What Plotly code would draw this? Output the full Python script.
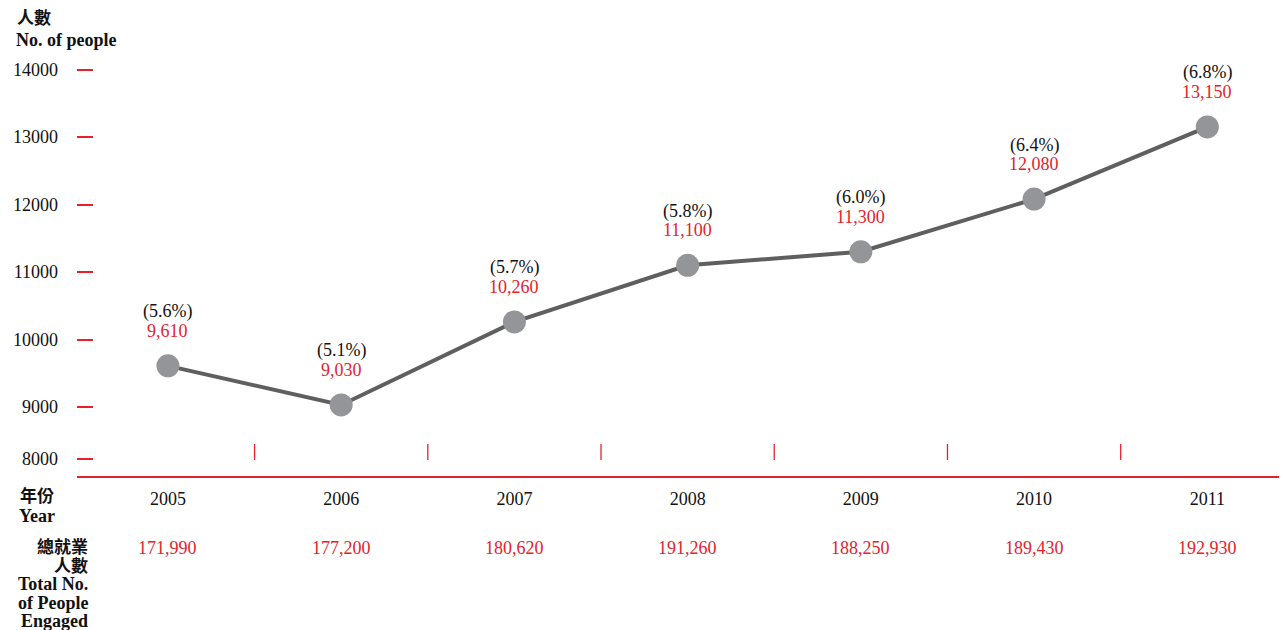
import plotly.graph_objects as go

# ---------------- data ----------------
years = [2005, 2006, 2007, 2008, 2009, 2010, 2011]
people = [9610, 9030, 10260, 11100, 11300, 12080, 13150]
share_pct = [5.6, 5.1, 5.7, 5.8, 6.0, 6.4, 6.8]
total_engaged = [171990, 177200, 180620, 191260, 188250, 189430, 192930]
y_tick_values = [8000, 9000, 10000, 11000, 12000, 13000, 14000]

# ---------------- layout constants ----------------
OFF = 8                    # page body margin of the browser
W, H = 1287 - OFF, 630 - OFF
PLOT_LEFT, PLOT_RIGHT, PLOT_TOP, PLOT_BOTTOM = 77, 1287, 50, 476   # page pixels
ML = PLOT_LEFT - OFF
MR = 0
MT = PLOT_TOP - OFF
MB = H - (PLOT_BOTTOM - OFF)
Y_MIN, Y_MAX = 7978, 14289
BREAK_POS = 8230          # broken axis: 8000 is drawn closer to 9000
X_MIN, X_MAX = 2004.475, 2011.46

RED = "#E2232E"
LINE_GREY = "#5F5F5F"
MARKER_GREY = "#949599"
SERIF = "'Liberation Serif', 'Times New Roman', 'Noto Sans CJK TC', serif"

PW = W - ML - MR
PH = H - MT - MB


def px_x(px):
    """page pixel x -> paper coordinate"""
    return (px - OFF - ML) / PW


def px_y(py):
    """page pixel y -> paper coordinate"""
    return (H - MB - (py - OFF)) / PH


tick_pos = [BREAK_POS if v < 9000 else v for v in y_tick_values]

fig = go.Figure()
fig.add_trace(go.Scatter(
    x=years, y=people, mode="lines+markers",
    line=dict(color=LINE_GREY, width=4),
    marker=dict(color=MARKER_GREY, size=23, line=dict(width=0)),
    hoverinfo="skip", showlegend=False,
))

annotations = []
for yr, val, pct, tot in zip(years, people, share_pct, total_engaged):
    annotations.append(dict(x=yr, y=val, xref="x", yref="y", text=f"({pct:.1f}%)",
                            showarrow=False, yshift=54, yanchor="middle",
                            font=dict(family=SERIF, size=18, color="#111111")))
    annotations.append(dict(x=yr, y=val, xref="x", yref="y", text=f"{val:,}",
                            showarrow=False, yshift=35, yanchor="middle",
                            font=dict(family=SERIF, size=18, color=RED)))
    annotations.append(dict(x=yr, y=px_y(548), xref="x", yref="paper", text=f"{tot:,}",
                            showarrow=False, yanchor="middle",
                            font=dict(family=SERIF, size=18, color=RED)))

# left-side row / axis titles
bold = dict(family=SERIF, size=18, color="#111111")
bold_cjk = dict(family=SERIF, size=17, color="#111111")
annotations += [
    dict(x=px_x(15), y=px_y(19), xref="paper", yref="paper", text="<b>人數</b>",
         showarrow=False, xanchor="left", yanchor="middle", font=bold_cjk),
    dict(x=px_x(14), y=px_y(40), xref="paper", yref="paper", text="<b>No. of people</b>",
         showarrow=False, xanchor="left", yanchor="middle", font=bold),
    dict(x=px_x(37), y=px_y(496), xref="paper", yref="paper", text="<b>年份</b>",
         showarrow=False, xanchor="center", yanchor="middle", font=bold_cjk),
    dict(x=px_x(37), y=px_y(516), xref="paper", yref="paper", text="<b>Year</b>",
         showarrow=False, xanchor="center", yanchor="middle", font=bold),
]
for txt, py, f in [("總就業", 547, bold_cjk), ("人數", 566, bold_cjk), ("Total No.", 584, bold),
                   ("of People", 603, bold), ("Engaged", 621, bold)]:
    annotations.append(dict(x=px_x(90), y=px_y(py), xref="paper", yref="paper",
                            text=f"<b>{txt}</b>", showarrow=False, xanchor="right",
                            yanchor="middle", font=f))

# small vertical separators between year columns
shapes = []
for a, b in zip(years[:-1], years[1:]):
    mid = (a + b) / 2
    shapes.append(dict(type="line", xref="x", yref="paper", x0=mid, x1=mid,
                       y0=px_y(460), y1=px_y(444), line=dict(color=RED, width=1.3)))

fig.update_layout(
    width=W, height=H,
    margin=dict(l=ML, r=MR, t=MT, b=MB),
    paper_bgcolor="white", plot_bgcolor="white",
    annotations=annotations, shapes=shapes,
    xaxis=dict(range=[X_MIN, X_MAX], tickvals=years, ticktext=[str(y) for y in years],
               showgrid=False, zeroline=False, showline=True, linecolor=RED, linewidth=1.5,
               ticks="", tickfont=dict(family=SERIF, size=18, color="#111111"),
               ticklabelstandoff=6, fixedrange=True),
    yaxis=dict(range=[Y_MIN, Y_MAX], tickvals=tick_pos, ticktext=[str(v) for v in y_tick_values],
               showgrid=False, zeroline=False, showline=False,
               ticks="inside", ticklen=16, tickwidth=1.5, tickcolor=RED,
               tickfont=dict(family=SERIF, size=18, color="#111111"),
               ticklabelstandoff=18, fixedrange=True),
    showlegend=False,
)

fig.write_html("out.html")
